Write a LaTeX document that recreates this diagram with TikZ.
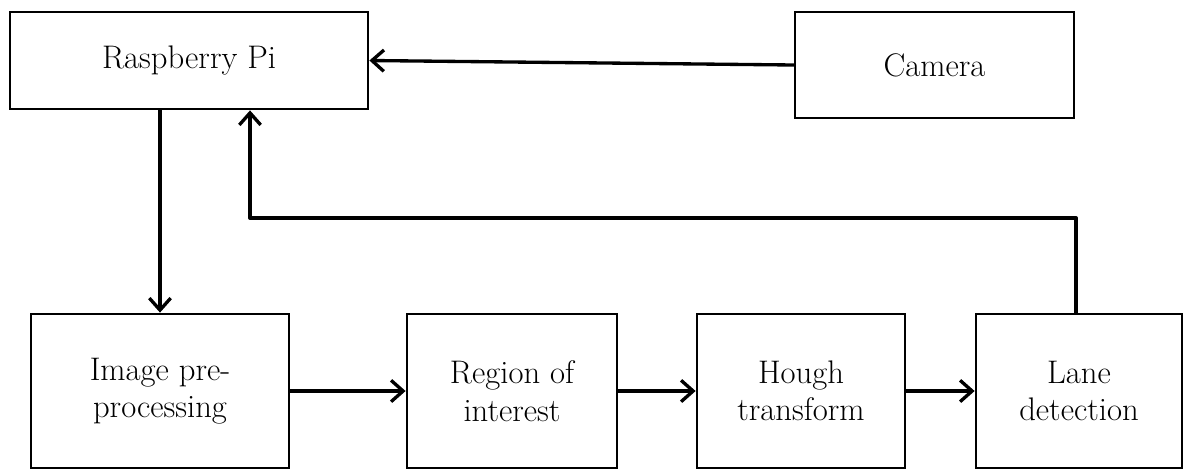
\documentclass[tikz,border=0pt]{standalone}
\usepackage{fontspec}
\usetikzlibrary{arrows.meta}

\begin{document}
\begin{tikzpicture}[x=0.75pt,y=-0.75pt,
  blk/.style={draw=black, line width=2.1pt, fill=white, inner sep=0pt,
    align=center, font=\fontsize{24.5}{28}\selectfont},
  flow/.style={line width=2.5pt, line cap=round, line join=round,
    -{Straight Barb[length=9pt,width=16pt,line width=2.5pt]}}]

  % page frame
  \useasboundingbox (0,0) rectangle (1187,469);

  % processing blocks
  \node[blk, minimum width=358*0.75pt, minimum height=97*0.75pt] (rpi) at (189,60.5) {Raspberry Pi};
  \node[blk, minimum width=279*0.75pt, minimum height=106*0.75pt] (cam) at (934.5,65) {Camera};
  \node[blk, minimum width=258*0.75pt, minimum height=154*0.75pt] (img) at (160,391) {Image pre-\\processing};
  \node[blk, minimum width=210*0.75pt, minimum height=154*0.75pt] (roi) at (512,391) {Region of\\interest};
  \node[blk, minimum width=208*0.75pt, minimum height=154*0.75pt] (hough) at (801,391) {Hough\\transform};
  \node[blk, minimum width=206*0.75pt, minimum height=154*0.75pt] (lane) at (1079,391) {Lane\\detection};

  % corners of the feedback line
  \coordinate (fbR) at (1076,218);
  \coordinate (fbL) at (250,218);

  % connectors
  \draw[flow] (cam.west) -- (rpi.east);
  \draw[flow] (rpi.south -| img.north) -- (img.north);
  \draw[flow] (img.east) -- (roi.west);
  \draw[flow] (roi.east) -- (hough.west);
  \draw[flow] (hough.east) -- (lane.west);
  \draw[flow] (fbR |- lane.north) -- (fbR) -- (fbL) -- (fbL |- rpi.south);
\end{tikzpicture}
\end{document}
